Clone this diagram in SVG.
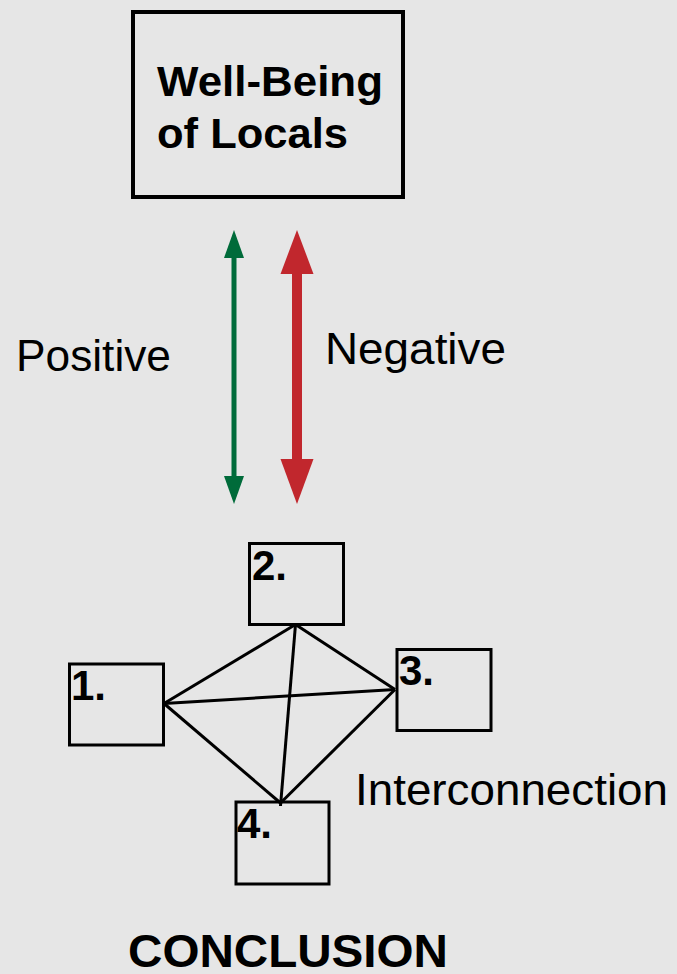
<svg xmlns="http://www.w3.org/2000/svg" width="677" height="974" viewBox="0 0 677 974">
<style>
.box{fill:none;stroke:#000;stroke-width:3}
.reg{font-family:"Liberation Sans",Arial,sans-serif;font-size:44px;fill:#000}
.bold{font-family:"Liberation Sans",Arial,sans-serif;font-weight:bold;fill:#000}
.conn{stroke:#000;stroke-width:3;fill:none}
</style>
<rect width="677" height="974" fill="#e6e6e6"/>
<g id="wellbeing">
<rect x="133" y="12" width="270" height="185" fill="none" stroke="#000" stroke-width="4"/>
<text class="bold" x="157" y="96" font-size="43" textLength="226" lengthAdjust="spacingAndGlyphs">Well-Being</text>
<text class="bold" x="157" y="148" font-size="43" textLength="191" lengthAdjust="spacingAndGlyphs">of Locals</text>
</g>
<g id="connectors">
<g id="positive-arrow" fill="#006b3a">
<rect x="231.5" y="256" width="5" height="222"/>
<polygon points="234,230 244,258 224,258"/>
<polygon points="234,504 244,476 224,476"/>
</g>
<g id="negative-arrow" fill="#c1272d">
<rect x="292" y="272" width="10" height="189"/>
<polygon points="297,230 313.5,274 280.5,274"/>
<polygon points="297,504 313.5,459 280.5,459"/>
</g>
<line class="conn" x1="295.5" y1="624.5" x2="164" y2="703.5"/>
<line class="conn" x1="295.5" y1="624.5" x2="395" y2="689.5"/>
<line class="conn" x1="295.5" y1="624.5" x2="280.5" y2="806"/>
<line class="conn" x1="164" y1="703.5" x2="395" y2="689.5"/>
<line class="conn" x1="164" y1="703.5" x2="280.5" y2="803"/>
<line class="conn" x1="395" y1="689.5" x2="280.5" y2="803"/>
</g>
<text class="reg" x="16" y="370.5" textLength="155" lengthAdjust="spacingAndGlyphs">Positive</text>
<text class="reg" x="325" y="363.5" textLength="181" lengthAdjust="spacingAndGlyphs">Negative</text>
<g id="node1">
<rect class="box" x="69.5" y="664" width="94" height="81"/>
<text class="bold" x="71" y="700" font-size="42">1.</text>
</g>
<g id="node2">
<rect class="box" x="249.5" y="543.5" width="94" height="81"/>
<text class="bold" x="252" y="580" font-size="42">2.</text>
</g>
<g id="node3">
<rect class="box" x="397" y="649.5" width="94" height="81"/>
<text class="bold" x="399" y="685" font-size="42">3.</text>
</g>
<g id="node4">
<rect class="box" x="236" y="802" width="93" height="82"/>
<text class="bold" x="237" y="838" font-size="42">4.</text>
</g>
<text class="reg" x="355" y="805" textLength="313" lengthAdjust="spacingAndGlyphs">Interconnection</text>
<text class="bold" x="128" y="967" font-size="46" textLength="320" lengthAdjust="spacingAndGlyphs">CONCLUSION</text>
</svg>
